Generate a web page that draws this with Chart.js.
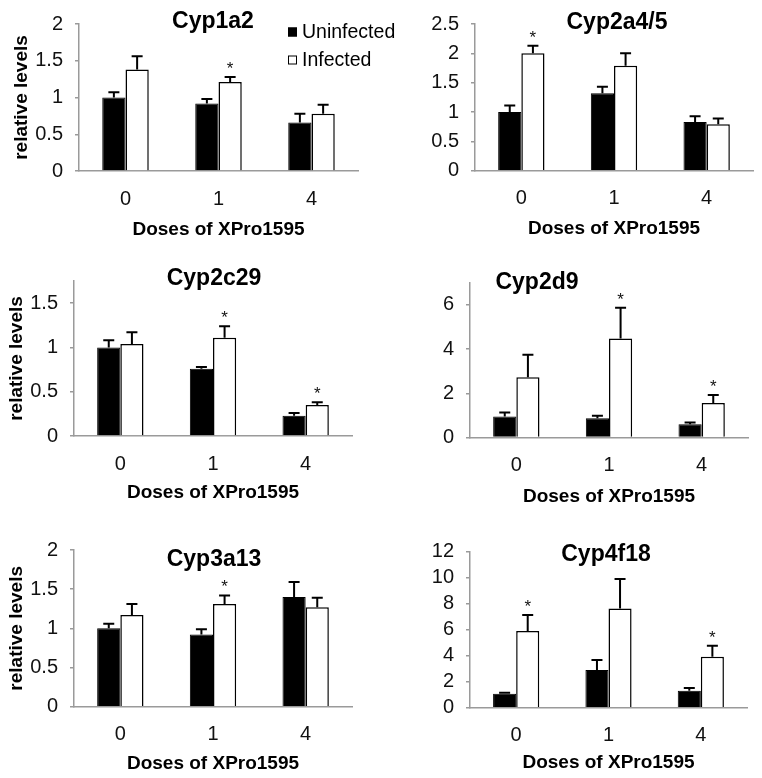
<!DOCTYPE html>
<html>
<head>
<meta charset="utf-8">
<script src="https://cdn.jsdelivr.net/npm/chart.js@4.4.1/dist/chart.umd.min.js"></script>
<style>
  body { margin: 0; background: #fff; }
  #wrap { position: relative; width: 762px; height: 778px; overflow: hidden; background: #fff; }
  #wrap canvas { position: absolute; }
</style>
</head>
<body>
<div id="wrap"></div>
<script>
  const doses = ['0', '1', '4'];
  const seriesNames = ['Uninfected', 'Infected'];
  const xTitle = 'Doses of XPro1595';
  const yTitle = 'relative levels';

  // Cyp1a2
  const cyp1a2Uninf = [1.00, 0.92, 0.66];
  const cyp1a2UninfErr = [0.07, 0.06, 0.12];
  const cyp1a2Inf = [1.38, 1.21, 0.78];
  const cyp1a2InfErr = [0.18, 0.07, 0.12];
  const cyp1a2Stars = [false, true, false];
  const cyp1a2Ticks = [0, 0.5, 1, 1.5, 2];

  // Cyp2a4/5
  const cyp2a45Uninf = [1.00, 1.32, 0.83];
  const cyp2a45UninfErr = [0.11, 0.11, 0.10];
  const cyp2a45Inf = [2.00, 1.79, 0.79];
  const cyp2a45InfErr = [0.13, 0.21, 0.10];
  const cyp2a45Stars = [true, false, false];
  const cyp2a45Ticks = [0, 0.5, 1, 1.5, 2, 2.5];

  // Cyp2c29
  const cyp2c29Uninf = [1.00, 0.76, 0.23];
  const cyp2c29UninfErr = [0.08, 0.02, 0.03];
  const cyp2c29Inf = [1.04, 1.11, 0.35];
  const cyp2c29InfErr = [0.13, 0.13, 0.03];
  const cyp2c29Stars = [false, true, true];
  const cyp2c29Ticks = [0, 0.5, 1, 1.5];

  // Cyp2d9
  const cyp2d9Uninf = [0.95, 0.87, 0.60];
  const cyp2d9UninfErr = [0.18, 0.11, 0.08];
  const cyp2d9Inf = [2.73, 4.48, 1.56];
  const cyp2d9InfErr = [1.01, 1.39, 0.36];
  const cyp2d9Stars = [false, true, true];
  const cyp2d9Ticks = [0, 2, 4, 6];

  // Cyp3a13
  const cyp3a13Uninf = [1.00, 0.92, 1.40];
  const cyp3a13UninfErr = [0.06, 0.07, 0.19];
  const cyp3a13Inf = [1.17, 1.31, 1.27];
  const cyp3a13InfErr = [0.14, 0.11, 0.12];
  const cyp3a13Stars = [false, true, false];
  const cyp3a13Ticks = [0, 0.5, 1, 1.5, 2];

  // Cyp4f18
  const cyp4f18Uninf = [1.08, 2.90, 1.31];
  const cyp4f18UninfErr = [0.07, 0.77, 0.20];
  const cyp4f18Inf = [5.90, 7.64, 3.92];
  const cyp4f18InfErr = [1.23, 2.26, 0.85];
  const cyp4f18Stars = [true, false, true];
  const cyp4f18Ticks = [0, 2, 4, 6, 8, 10, 12];

  const FONT = "'Liberation Sans', Arial, sans-serif";
  const axisColor = '#9a9a9a';
  Chart.defaults.font.family = FONT;
  Chart.defaults.color = '#111';

  // draws error bars, stars, panel title and legend
  const decorPlugin = {
    id: 'decor',
    afterDatasetsDraw(chart, args, opts) {
      const ctx = chart.ctx;
      const yScale = chart.scales.y;
      ctx.save();
      chart.data.datasets.forEach((ds, i) => {
        const meta = chart.getDatasetMeta(i);
        meta.data.forEach((bar, j) => {
          const top = yScale.getPixelForValue(ds.data[j] + ds.errors[j]);
          ctx.strokeStyle = '#000';
          ctx.lineWidth = 2;
          ctx.beginPath();
          ctx.moveTo(bar.x, bar.y);
          ctx.lineTo(bar.x, top);
          ctx.moveTo(bar.x - 5.5, top);
          ctx.lineTo(bar.x + 5.5, top);
          ctx.stroke();
          if (ds.stars && ds.stars[j]) {
            ctx.fillStyle = '#111';
            ctx.font = '17px ' + FONT;
            ctx.textAlign = 'center';
            ctx.textBaseline = 'alphabetic';
            ctx.fillText('*', bar.x, top - 3);
          }
        });
      });

      ctx.fillStyle = '#000';
      ctx.font = 'bold 23px ' + FONT;
      ctx.textAlign = 'center';
      ctx.textBaseline = 'middle';
      ctx.fillText(opts.title, opts.titleX, opts.titleY);

      if (opts.legend) {
        ctx.font = '19.5px ' + FONT;
        ctx.textAlign = 'left';
        chart.data.datasets.forEach((ds, i) => {
          const y = opts.legendY + i * 28;
          ctx.fillStyle = ds.backgroundColor;
          ctx.fillRect(opts.legendX, y - 4.5, 9, 9);
          ctx.strokeStyle = '#000';
          ctx.lineWidth = 1;
          ctx.strokeRect(opts.legendX + 0.5, y - 4, 8, 8);
          ctx.fillStyle = '#000';
          ctx.fillText(ds.label, opts.legendX + 14, y + 1);
        });
      }
      ctx.restore();
    }
  };

  const panels = [
    { title: 'Cyp1a2', uninf: cyp1a2Uninf, uninfErr: cyp1a2UninfErr, inf: cyp1a2Inf, infErr: cyp1a2InfErr, stars: cyp1a2Stars, ticks: cyp1a2Ticks, yMax: 2,
      box: [0, 0, 400, 250], yWidth: 79, pad: { top: 15, right: 42, bottom: 9 }, xHeight: 70, showY: true, yTitlePad: 10.6, titleAt: [213, 22], legend: true },
    { title: 'Cyp2a4/5', uninf: cyp2a45Uninf, uninfErr: cyp2a45UninfErr, inf: cyp2a45Inf, infErr: cyp2a45InfErr, stars: cyp2a45Stars, ticks: cyp2a45Ticks, yMax: 2.5,
      box: [381, 0, 381, 250], yWidth: 94, pad: { top: 15.7, right: 9, bottom: 10.3 }, xHeight: 69, showY: false, titleAt: [236, 23] },
    { title: 'Cyp2c29', uninf: cyp2c29Uninf, uninfErr: cyp2c29UninfErr, inf: cyp2c29Inf, infErr: cyp2c29InfErr, stars: cyp2c29Stars, ticks: cyp2c29Ticks, yMax: 1.75,
      box: [0, 250, 400, 260], yWidth: 74, pad: { top: 31, right: 48, bottom: 5.9 }, xHeight: 68.1, showY: true, yTitlePad: 5.3, titleAt: [214, 29] },
    { title: 'Cyp2d9', uninf: cyp2d9Uninf, uninfErr: cyp2d9UninfErr, inf: cyp2d9Inf, infErr: cyp2d9InfErr, stars: cyp2d9Stars, ticks: cyp2d9Ticks, yMax: 7,
      box: [381, 250, 381, 260], yWidth: 89, pad: { top: 32.7, right: 14, bottom: 1.9 }, xHeight: 70.6, showY: false, titleAt: [156, 33] },
    { title: 'Cyp3a13', uninf: cyp3a13Uninf, uninfErr: cyp3a13UninfErr, inf: cyp3a13Inf, infErr: cyp3a13InfErr, stars: cyp3a13Stars, ticks: cyp3a13Ticks, yMax: 2,
      box: [0, 510, 400, 268], yWidth: 74, pad: { top: 40, right: 48, bottom: 2.6 }, xHeight: 68.7, showY: true, yTitlePad: 5.3, titleAt: [214, 50] },
    { title: 'Cyp4f18', uninf: cyp4f18Uninf, uninfErr: cyp4f18UninfErr, inf: cyp4f18Inf, infErr: cyp4f18InfErr, stars: cyp4f18Stars, ticks: cyp4f18Ticks, yMax: 12,
      box: [381, 510, 381, 268], yWidth: 89, pad: { top: 41.7, right: 15, bottom: 4.3 }, xHeight: 66, showY: false, titleAt: [225, 45] }
  ];

  function makePanel(p) {
    const canvas = document.createElement('canvas');
    canvas.width = p.box[2];
    canvas.height = p.box[3];
    canvas.style.left = p.box[0] + 'px';
    canvas.style.top = p.box[1] + 'px';
    document.getElementById('wrap').appendChild(canvas);

    new Chart(canvas.getContext('2d'), {
      type: 'bar',
      data: {
        labels: doses,
        datasets: [
          {
            label: seriesNames[0],
            data: p.uninf,
            errors: p.uninfErr,
            backgroundColor: '#000',
            borderColor: '#000',
            borderWidth: 1,
            barPercentage: 1,
            categoryPercentage: 0.5
          },
          {
            label: seriesNames[1],
            data: p.inf,
            errors: p.infErr,
            stars: p.stars,
            backgroundColor: '#fff',
            borderColor: '#000',
            borderWidth: 1.5,
            barPercentage: 1,
            categoryPercentage: 0.5
          }
        ]
      },
      options: {
        responsive: false,
        animation: false,
        devicePixelRatio: 1,
        layout: { padding: { left: 0, top: p.pad.top, right: p.pad.right, bottom: p.pad.bottom } },
        plugins: {
          legend: { display: false },
          tooltip: { enabled: false },
          decor: { title: p.title, titleX: p.titleAt[0], titleY: p.titleAt[1], legend: !!p.legend, legendX: 288, legendY: 32 }
        },
        scales: {
          x: {
            grid: { display: false },
            border: { display: true, color: axisColor, width: 1.5 },
            ticks: { font: { size: 20 }, color: '#111', padding: 8 },
            title: { display: true, text: xTitle, font: { size: 19, weight: 'bold' }, color: '#000', padding: 0 },
            afterFit: (s) => { s.height = p.xHeight; }
          },
          y: {
            min: 0,
            max: p.yMax,
            bounds: 'data',
            afterBuildTicks: (s) => { s.ticks = p.ticks.map(v => ({ value: v })); },
            grid: { display: true, drawOnChartArea: false, drawTicks: true, tickLength: 4, color: axisColor, lineWidth: 1.5 },
            border: { display: true, color: axisColor, width: 1.5 },
            ticks: { font: { size: 20 }, color: '#111', padding: 12, autoSkip: false, callback: (v) => String(v) },
            title: { display: p.showY, text: yTitle, font: { size: 19, weight: 'bold' }, color: '#000', padding: { top: p.yTitlePad || 0, bottom: 0 } },
            afterFit: (s) => { s.width = p.yWidth; }
          }
        }
      },
      plugins: [decorPlugin]
    });
  }

  panels.forEach(makePanel);
</script>
</body>
</html>
